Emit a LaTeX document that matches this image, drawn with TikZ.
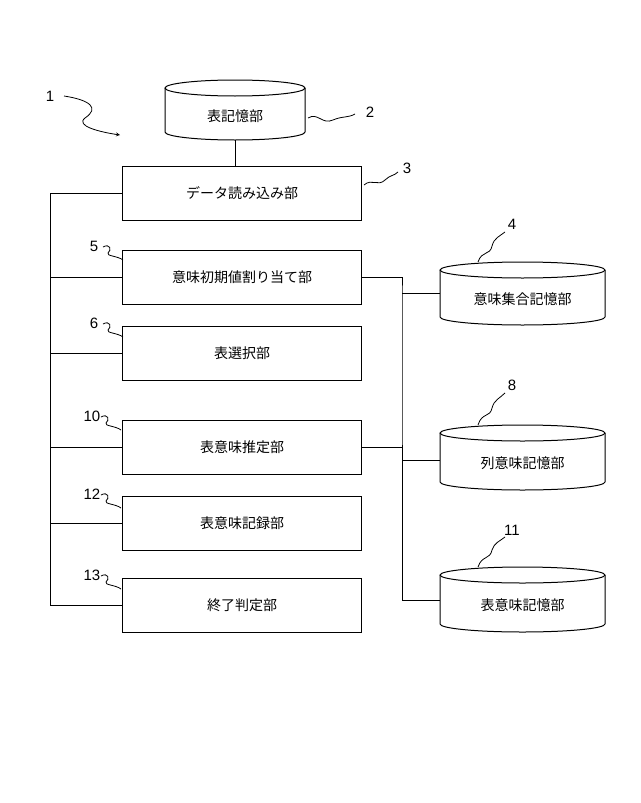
\documentclass[tikz,border=0pt]{standalone}
\usepackage{fontspec}
\setmainfont{Liberation Sans}
\newfontfamily\cjk{Noto Sans CJK JP}
\begin{document}
\begin{tikzpicture}[x=1pt,y=-1pt,line width=1pt,
  box/.style={draw,minimum width=239pt,minimum height=54pt,inner sep=0pt,font=\cjk\fontsize{14}{14}\selectfont},
  lab/.style={font=\fontsize{15}{15}\selectfont},
  sq/.style={line width=0.8pt}]
\useasboundingbox (0,0) rectangle (640,803);
\newcommand{\mycyl}[6]{% x1,x2,ytop,ybot,name,text
  \pgfmathsetmacro\cx{(#1+#2)/2}\pgfmathsetmacro\rx{(#2-#1)/2}
  \fill[white] (#1,#3) -- (#1,#4) arc[start angle=180,end angle=0,x radius=\rx,y radius=8] -- (#2,#3) -- cycle;
  \draw (#1,#3) -- (#1,#4) arc[start angle=180,end angle=0,x radius=\rx,y radius=8] -- (#2,#3);
  \draw (\cx,#3) ellipse[x radius=\rx,y radius=8];
  \node[font=\cjk\fontsize{14}{14}\selectfont] (#5) at (\cx,{(#3+#4)/2+6}) {#6};}
\mycyl{165}{305}{88}{132}{c2}{表記憶部}
\coordinate (c2b) at (235,140);
\node[box] (b3) at (242,193) {データ読み込み部};
\node[box] (b5) at (242,277) {意味初期値割り当て部};
\node[box] (b6) at (242,353) {表選択部};
\node[box] (b10) at (242,447) {表意味推定部};
\node[box] (b12) at (242,523) {表意味記録部};
\node[box] (b13) at (242,605) {終了判定部};
\draw (c2b) -- (c2b |- b3.north);
\coordinate (L1) at (50,193); \coordinate (L2) at (50,605);
\draw (b3.west) -- (L1) -- (L2) -- (b13.west);
\foreach \n in {b5,b6,b10,b12} \draw (b3.west -| L1) |- (\n.west);
\mycyl{440}{605}{270}{317}{c4}{意味集合記憶部}
\mycyl{440}{605}{433}{482}{c8}{列意味記憶部}
\mycyl{440}{605}{575}{624}{c11}{表意味記憶部}
\coordinate (R1) at (402,293); \coordinate (R2) at (402,600);
\draw (b5.east) -| (R1) -- (R2) -- (440,600);
\draw (R1) -- (440,293);
\draw (b10.east) -- (402,447);
\draw (402,460) -- (440,460);
% labels
\node[lab] (n1) at (50,96) {1};
\draw[sq,->,>=stealth] (64,96) .. controls (90,100) and (100,108) .. (85,118) .. controls (75,126) and (100,132) .. (120,135);
\node[lab] (n2) at (370,112) {2};
\draw[sq] (308,118) .. controls (318,112) and (322,125) .. (333,120) .. controls (342,116) and (348,118) .. (355,114);
\node[lab] (n3) at (407,168) {3};
\draw[sq] (364,185) .. controls (372,178) and (378,187) .. (385,180) .. controls (390,175) and (394,176) .. (398,172);
\node[lab] (n4) at (512,224) {4};
\draw[sq] (478,262) .. controls (482,250) and (490,256) .. (492,246) .. controls (494,238) and (500,236) .. (505,232);
\node[lab] (n8) at (512,385) {8};
\draw[sq] (478,425) .. controls (482,412) and (490,418) .. (492,408) .. controls (494,400) and (500,398) .. (505,393);
\node[lab] (n11) at (512,530) {11};
\draw[sq] (478,567) .. controls (482,555) and (490,560) .. (492,550) .. controls (494,543) and (500,541) .. (505,537);
\foreach \t/\x/\y/\n in {5/94/246/n5,6/94/323/n6,10/92/416/n10,12/92/494/n12,13/92/575/n13}{
  \node[lab] (\n) at (\x,\y) {\t};
  \draw[sq] (\x+9,\y+1) .. controls (\x+16,\y-3) and (\x+18,\y+4) .. (\x+14,\y+7) .. controls (\x+12,\y+10) and (\x+24,\y+10) .. (\x+29,\y+14);}
\end{tikzpicture}
\end{document}
